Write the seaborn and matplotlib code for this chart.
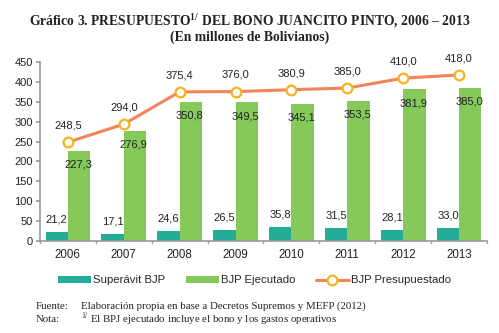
import matplotlib
matplotlib.use("Agg")
import matplotlib.pyplot as plt
import seaborn as sns
import pandas as pd

years = ["2006", "2007", "2008", "2009", "2010", "2011", "2012", "2013"]
superavit = [21.2, 17.1, 24.6, 26.5, 35.8, 31.5, 28.1, 33.0]
ejecutado = [227.3, 276.9, 350.8, 349.5, 345.1, 353.5, 381.9, 385.0]
presupuestado = [248.5, 294.0, 375.4, 376.0, 380.9, 385.0, 410.0, 418.0]
yticks = [0, 50, 100, 150, 200, 250, 300, 350, 400, 450]

sns.set_theme(style="white")
plt.rcParams["font.family"] = ["Liberation Sans", "DejaVu Sans"]
plt.rcParams["mathtext.fontset"] = "custom"
plt.rcParams["mathtext.rm"] = "Liberation Serif"
plt.rcParams["mathtext.bf"] = "Liberation Serif:bold"

def fmt(v):
    return f"{v:.1f}".replace(".", ",")

df = pd.DataFrame({
    "year": years * 2,
    "value": superavit + ejecutado,
    "series": ["Superávit BJP"] * len(years) + ["BJP Ejecutado"] * len(years),
})
dfl = pd.DataFrame({"year": years, "value": presupuestado})

fig = plt.figure(figsize=(4.99, 3.33), dpi=100)
ax = fig.add_axes([0.080, 0.277, 0.896, 0.536])

c_sup = "#22ad96"
c_eje = "#84c95a"
c_line = "#f0845a"
c_mark = "#f7b21e"

sns.barplot(data=df, x="year", y="value", hue="series", order=years,
            hue_order=["Superávit BJP", "BJP Ejecutado"],
            palette=[c_sup, c_eje], width=0.8, saturation=1,
            edgecolor="none", ax=ax)
sns.pointplot(data=dfl, x="year", y="value", order=years, color=c_line,
              markers="o", linewidth=2.2, markersize=7, errorbar=None,
              markerfacecolor="white", markeredgecolor=c_mark,
              markeredgewidth=1.6, label="BJP Presupuestado", ax=ax)

sup_bars, eje_bars = ax.containers[0], ax.containers[1]
for rect, v in zip(sup_bars, superavit):
    ax.annotate(fmt(v), (rect.get_x() + rect.get_width() / 2, v),
                xytext=(0, 9), textcoords="offset points",
                ha="center", va="center", fontsize=8, color="#222222")
for rect, v in zip(eje_bars, ejecutado):
    ax.annotate(fmt(v), (rect.get_x() + rect.get_width() / 2 - 0.02, v),
                xytext=(0, -10), textcoords="offset points",
                ha="center", va="center", fontsize=8, color="#222222")
for i, v in enumerate(presupuestado):
    ax.annotate(fmt(v), (i, v), xytext=(0, 12), textcoords="offset points",
                ha="center", va="center", fontsize=8, color="#222222",
                annotation_clip=False)

ax.set_ylim(0, 450)
ax.set_yticks(yticks)
ax.set_xlim(-0.5, len(years) - 0.5)
ax.set_xlabel("")
ax.set_ylabel("")
ax.tick_params(axis="y", labelsize=8, length=3, direction="out", left=True,
               color="#999999", pad=2, labelcolor="#222222")
ax.tick_params(axis="x", labelsize=8.3, length=0, pad=6, labelcolor="#222222")
ax.set_xticks(range(len(years)))
ax.set_xticklabels(years)
for b in [i + 0.5 for i in range(-1, len(years))]:
    ax.plot([b, b], [0, -6], color="#999999", lw=1, clip_on=False,
            transform=ax.transData)
for s in ["top", "right"]:
    ax.spines[s].set_visible(False)
for s in ["left", "bottom"]:
    ax.spines[s].set_color("#999999")
    ax.spines[s].set_linewidth(1.2)

handles, labels = ax.get_legend_handles_labels()
if ax.get_legend():
    ax.get_legend().remove()
fig.legend(handles, labels, loc="center", bbox_to_anchor=(0.51, 0.158),
           ncol=3, frameon=False, fontsize=8.2, handlelength=2.9,
           handletextpad=0.2, columnspacing=1.8, handleheight=0.6)

fig.text(0.5, 0.938, r"Gráfico 3. PRESUPUESTO$^{\mathbf{1/}}$ DEL BONO JUANCITO PINTO, 2006 – 2013",
         ha="center", va="center", fontsize=9.8, fontweight="bold",
         family="Liberation Serif", color="#222222")
fig.text(0.5, 0.889, "(En millones de Bolivianos)", ha="center", va="center",
         fontsize=9.8, fontweight="bold", family="Liberation Serif",
         color="#222222")
fig.text(0.072, 0.081, "Fuente:", ha="left", va="center", fontsize=7.8,
         family="Liberation Serif", color="#222222")
fig.text(0.162, 0.081, "Elaboración propia en base a Decretos Supremos y MEFP (2012)",
         ha="left", va="center", fontsize=7.8, family="Liberation Serif",
         color="#222222")
fig.text(0.072, 0.042, "Nota:", ha="left", va="center", fontsize=7.8,
         family="Liberation Serif", color="#222222")
fig.text(0.162, 0.042, r"$^{1/}$ El BPJ ejecutado incluye el bono y los gastos operativos",
         ha="left", va="center", fontsize=7.8, family="Liberation Serif",
         color="#222222")

fig.savefig("out.png", dpi=100)
